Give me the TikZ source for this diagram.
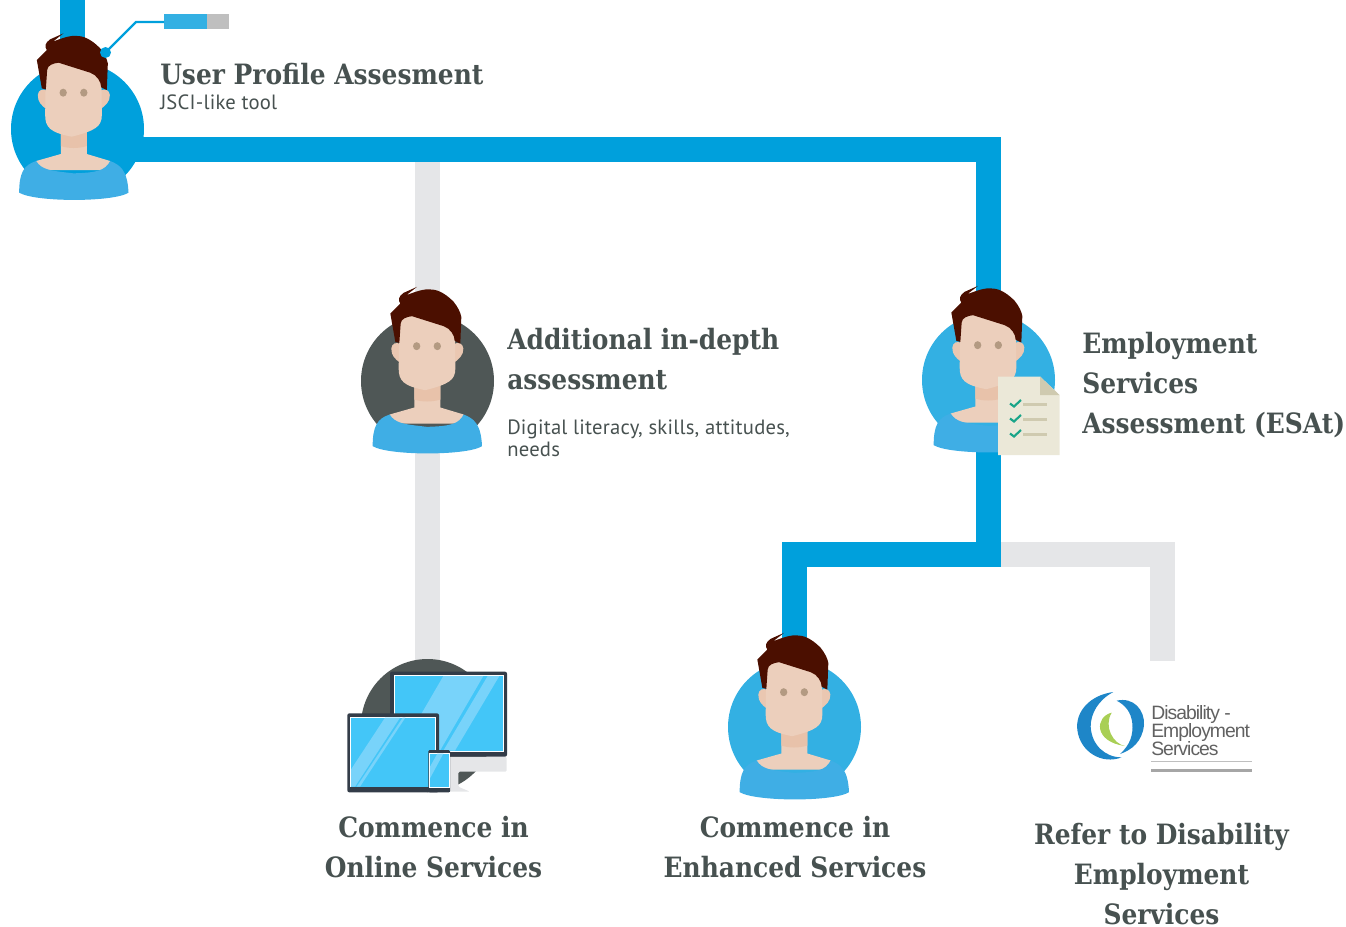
\documentclass[tikz,border=0pt]{standalone}
\usepackage{fontspec}
\setmainfont{DejaVu Serif}[FakeStretch=0.89]
\newfontfamily\subfont{PT Sans}[LetterSpace=1]
\newfontfamily\logofont{Liberation Sans}[LetterSpace=-5]
\definecolor{pipeblue}{HTML}{00A0DC}
\definecolor{lightblue}{HTML}{33B0E3}
\definecolor{shirtblue}{HTML}{3FAEE5}
\definecolor{pipegrey}{HTML}{E5E6E8}
\definecolor{darkcirc}{HTML}{4F5756}
\definecolor{hair}{HTML}{4B0F00}
\definecolor{skin}{HTML}{ECCFBC}
\definecolor{skindark}{HTML}{E8C2AA}
\definecolor{eye}{HTML}{B39A82}
\definecolor{txt}{HTML}{475150}
\definecolor{screen}{HTML}{43C6F8}
\definecolor{glare}{HTML}{78D3FA}
\definecolor{frame}{HTML}{333C48}
\definecolor{paper}{HTML}{EBE8D8}
\definecolor{fold}{HTML}{CFCAB0}
\definecolor{check}{HTML}{1AA589}
\definecolor{swirl}{HTML}{1E86C8}
\definecolor{swirlgreen}{HTML}{A9CF55}
\tikzset{
  x=0.75pt,y=-0.75pt,
  bluepipe/.style={line width=18.75pt,color=pipeblue,miter limit=10},
  greypipe/.style={line width=18.75pt,color=pipegrey,miter limit=10},
  titletext/.style={font=\fontsize{21}{30}\selectfont\bfseries,text=txt,inner sep=0pt},
  subtext/.style={font=\fontsize{15.5}{16.5}\selectfont\subfont,text=txt,inner sep=0pt},
  logotext/.style={font=\fontsize{14.5}{15}\selectfont\logofont,text=black!62,inner sep=0pt,anchor=west},
  person/.pic={
    \begin{scope}[scale=1/3,shift={(-232,-387)}]
      \fill[skindark!60!skin] (113,285) .. controls (114,270) and (128,264) .. (140,272) -- (140,328) .. controls (125,318) and (112,305) .. (113,285) -- cycle;
      \fill[skindark!60!skin] (329,285) .. controls (328,270) and (314,264) .. (300,272) -- (300,328) .. controls (315,318) and (330,305) .. (329,285) -- cycle;
      \fill[skin] (182,385) -- (260,385) -- (260,462) -- (330,483) -- (330,510) -- (108,510) -- (108,483) -- (182,462) -- cycle;
      \fill[skindark] (182,385) -- (260,385) -- (260,438) .. controls (235,446) and (205,446) .. (182,438) -- cycle;
      \fill[shirtblue] (108,483) .. controls (125,510) and (150,512) .. (220,520) .. controls (290,518) and (315,512) .. (330,483) .. controls (360,495) and (382,510) .. (385,578) .. controls (340,607) and (105,607) .. (57,578) .. controls (57,520) and (70,495) .. (108,483) -- cycle;
      \fill[skin] (137,205) .. controls (140,195) and (160,188) .. (175,186) -- (270,215) .. controls (285,220) and (303,235) .. (304,250) -- (305,345) .. controls (305,380) and (285,392) .. (215,410) .. controls (150,398) and (135,382) .. (135,345) -- cycle;
      \fill[hair] (110,180) .. controls (120,170) and (135,155) .. (140,150) .. controls (132,140) and (135,128) .. (150,118) -- (190,100) -- (158,125) .. controls (185,115) and (210,105) .. (232,108) .. controls (260,108) and (285,130) .. (300,145) .. controls (312,160) and (320,175) .. (323,190) -- (320,270) -- (303,262) .. controls (303,245) and (290,225) .. (270,218) -- (175,188) .. controls (160,190) and (142,195) .. (141,210) -- (137,268) -- (125,265) -- cycle;
      \fill[eye] (189,278) circle[x radius=11,y radius=12];
      \fill[eye] (251,278) circle[x radius=11,y radius=12];
    \end{scope}
  }
}
\begin{document}
\begin{tikzpicture}
\useasboundingbox (0,0) rectangle (1346,926);
% anchor points
\coordinate (top) at (72,0);
\coordinate (topend) at (72,60);
\coordinate (p1) at (77.5,129);
\coordinate (p2) at (988.5,380);
\coordinate (p3) at (794.5,727);
\coordinate (p4) at (427.5,381);
\coordinate (p5) at (427.5,725.5);
\coordinate (f1) at (77.5,129);
\coordinate (f2) at (992,381.5);
\coordinate (f3) at (798,728.5);
\coordinate (f4) at (431,382.5);
\coordinate (j1) at (77.5,149.5);
\coordinate (j2) at (988.5,149.5);
\coordinate (j3) at (988.5,554.5);
\coordinate (j4) at (794.5,554.5);
\coordinate (j5) at (427.5,149.5);
\coordinate (j6) at (1162.5,554.5);
\coordinate (j7) at (1162.5,661);
% pipes
\draw[greypipe] (j5) -- (p4) -- (p5);
\draw[greypipe] (j3) -- (j6) -- (j7);
\draw[bluepipe] (top) -- (topend);
\draw[bluepipe] (j1) -- (j2) -- (p2) -- (j3) -- (j4) -- (p3);
% persons
\fill[pipeblue] (p1) circle[radius=66.5];
\fill[darkcirc] (p4) circle[radius=66.5];
\fill[lightblue] (p2) circle[radius=66.5];
\fill[lightblue] (p3) circle[radius=66.5];
\pic at (f1) {person};
\pic at (f4) {person};
\pic at (f2) {person};
\pic at (f3) {person};
% progress marker
\fill[lightblue] (164,14) rectangle (207,29);
\fill[black!25] (207,14) rectangle (229,29);
\coordinate (m1) at (105.5,52.5);
\coordinate (m2) at (136,22);
\coordinate (m3) at (164,22);
\draw[pipeblue,line width=1.6pt] (m1) -- (m2) -- (m3);
\fill[pipeblue] (m1) circle[radius=5.5];
% checklist
\fill[paper] (998,376.5) -- (1040,376.5) -- (1059.5,395) -- (1059.5,455) -- (998,455) -- cycle;
\fill[fold] (1040,376.5) -- (1059.5,395) -- (1040,395) -- cycle;
\foreach \yy in {403.5,418.5,433.5}{
  \draw[check,line width=1.6pt] (1010,\yy) -- (1014,\yy+3) -- (1021,\yy-3.5);
  \draw[fold,line width=1.8pt] (1023,\yy+1) -- (1047,\yy+1);
}
% devices
\fill[darkcirc] (p5) circle[radius=66.5];
\begin{scope}[shift={(340,650)},scale=1/3]
  \fill[pipegrey,rounded corners=1pt] (330,320) -- (500,320) -- (500,365) -- (355,365) -- (355,410) -- (390,425) -- (265,425) -- (265,320) -- cycle;
  \fill[frame,rounded corners=1.5pt] (150,65) rectangle (501,320);
  \fill[white] (162,76) rectangle (491,305);
  \fill[screen] (165,78) rectangle (489,302);
  \begin{scope}
    \clip (165,78) rectangle (489,302);
    \fill[glare] (310,78) -- (430,78) -- (300,302) -- (180,302) -- cycle;
    \fill[glare] (443,78) -- (478,78) -- (345,302) -- (310,302) -- cycle;
  \end{scope}
  \fill[frame,rounded corners=1.5pt] (22,190) rectangle (297,427);
  \fill[frame] (260,410) rectangle (330,427);
  \fill[white] (31,200) rectangle (289,412);
  \fill[screen] (33,203) rectangle (286,410);
  \begin{scope}
    \clip (33,203) rectangle (286,410);
    \fill[glare] (135,203) -- (180,203) -- (45,410) -- (-1,410) -- cycle;
    \fill[glare] (188,203) -- (196,203) -- (60,410) -- (50,410) -- cycle;
  \end{scope}
  \fill[frame,rounded corners=1pt] (265,300) rectangle (330,427);
  \fill[white] (267,309) rectangle (329,413);
  \fill[screen] (270,311) rectangle (328,411);
  \begin{scope}
    \clip (270,311) rectangle (328,411);
    \fill[glare] (292,311) -- (310,311) -- (270,385) -- (270,350) -- cycle;
  \end{scope}
\end{scope}
% DES logo
\begin{scope}[shift={(1060,670)},scale=1/3]
  \fill[swirlgreen] (155,128) .. controls (105,140) and (100,215) .. (195,228) .. controls (160,222) and (130,170) .. (155,128) -- cycle;
  \fill[swirl] (160,66) .. controls (90,75) and (45,125) .. (52,180) .. controls (60,245) and (125,285) .. (185,262) .. controls (135,262) and (95,225) .. (92,170) .. controls (92,130) and (115,90) .. (160,66) -- cycle;
  \fill[swirl] (170,92) .. controls (220,80) and (255,120) .. (252,165) .. controls (247,215) and (215,240) .. (180,252) .. controls (210,225) and (220,195) .. (217,160) .. controls (213,125) and (195,105) .. (170,92) -- cycle;
\end{scope}
\node[logotext] (l1) at (1151,714) {Disability -};
\node[logotext] (l2) at (1151,732) {Employment};
\node[logotext] (l3) at (1151,749) {Services};
\fill[black!25] (1151,761) rectangle (1252,762);
\fill[black!35] (1151,768.5) rectangle (1252,771.5);
% labels
\node[titletext,anchor=west] (t1) at (160,74) {User Profile Assesment};
\node[subtext,anchor=west] (s1) at (160,102) {JSCI-like tool};
\node[titletext,anchor=west,align=left] (t2) at (507,359) {Additional in-depth\\assessment};
\node[subtext,anchor=west,align=left] (s2) at (507,438) {Digital literacy, skills, attitudes,\\needs};
\node[titletext,anchor=west,align=left] (t3) at (1082,385) {Employment\\Services\\Assessment (ESAt)};
\node[titletext,align=center] (t4) at (433.5,847) {Commence in\\Online Services};
\node[titletext,align=center] (t5) at (795,847) {Commence in\\Enhanced Services};
\node[titletext,align=center] (t6) at (1161.5,874.5) {Refer to Disability\\Employment\\Services};
\end{tikzpicture}
\end{document}
